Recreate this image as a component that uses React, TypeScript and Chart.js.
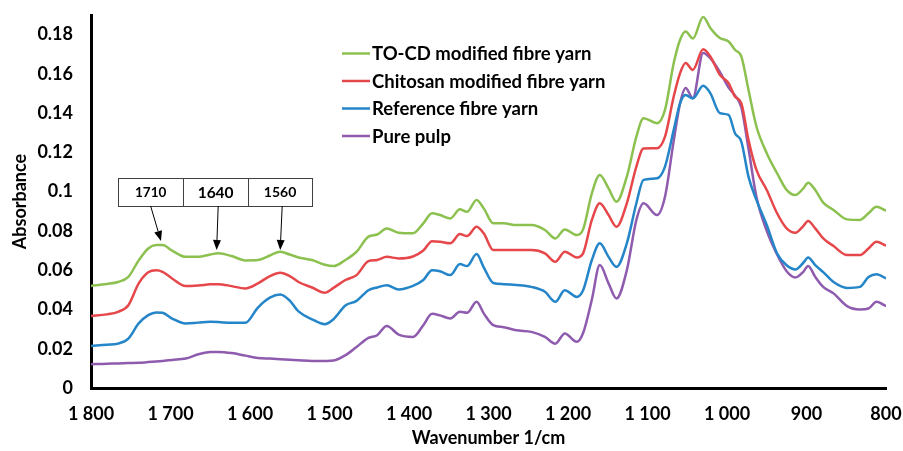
import React, { useEffect, useRef } from 'react';
import { Chart, registerables } from 'chart.js';

Chart.register(...registerables);

const wavenumbers = [
  1800, 1780, 1766, 1753, 1740, 1728, 1718, 1710, 1698, 1681,
  1665, 1650, 1640, 1623, 1606, 1590, 1575, 1562, 1550, 1539,
  1522, 1506, 1495, 1480, 1466, 1451, 1440, 1428, 1413, 1395,
  1382, 1371, 1361, 1348, 1336, 1327, 1315, 1306, 1294, 1281,
  1265, 1246, 1229, 1216, 1204, 1189, 1181, 1170, 1160, 1149,
  1139, 1126, 1114, 1105, 1088, 1078, 1067, 1059, 1052, 1043,
  1030, 1021, 1009, 998, 990, 982, 973, 963, 950, 937,
  925, 914, 904, 898, 889, 879, 866, 849, 833, 822,
  812, 800,
];

const tocdYarn = [
  0.052, 0.053, 0.054, 0.0566, 0.065, 0.0711, 0.0728, 0.0728, 0.070, 0.0668,
  0.0668, 0.068, 0.0686, 0.0672, 0.065, 0.0652, 0.0675, 0.0694, 0.068, 0.0665,
  0.0652, 0.0628, 0.0621, 0.0652, 0.0694, 0.0771, 0.0782, 0.0813, 0.0791, 0.0788,
  0.0839, 0.089, 0.0881, 0.0864, 0.091, 0.0898, 0.0958, 0.0915, 0.0839, 0.0839,
  0.083, 0.083, 0.0805, 0.0762, 0.0808, 0.0779, 0.0808, 0.0992, 0.1085, 0.1017,
  0.0949, 0.1077, 0.128, 0.1374, 0.1349, 0.1417, 0.1655, 0.1774, 0.1816, 0.178,
  0.189, 0.1834, 0.1783, 0.1765, 0.1723, 0.1689, 0.1519, 0.1332, 0.1196, 0.1094,
  0.1009, 0.0983, 0.1017, 0.1046, 0.1009, 0.0944, 0.0907, 0.0859, 0.0856, 0.089,
  0.0923, 0.0903,
];

const chitosanYarn = [
  0.0367, 0.0375, 0.0388, 0.0422, 0.0533, 0.059, 0.060, 0.0592, 0.0558, 0.0519,
  0.0522, 0.0528, 0.0529, 0.0519, 0.0507, 0.0533, 0.057, 0.0587, 0.057, 0.054,
  0.0512, 0.0485, 0.051, 0.055, 0.0575, 0.0646, 0.0652, 0.0668, 0.066, 0.067,
  0.070, 0.0748, 0.0745, 0.0737, 0.0784, 0.0774, 0.0821, 0.0788, 0.0703, 0.0703,
  0.0703, 0.0703, 0.0686, 0.0643, 0.0694, 0.0665, 0.0686, 0.0856, 0.0941, 0.0881,
  0.0821, 0.0941, 0.1128, 0.122, 0.1221, 0.128, 0.1485, 0.1604, 0.1655, 0.162,
  0.1725, 0.1689, 0.1595, 0.1553, 0.1485, 0.1451, 0.1264, 0.1111, 0.1009, 0.089,
  0.0813, 0.0791, 0.0825, 0.0851, 0.0813, 0.0762, 0.0723, 0.0677, 0.0677, 0.0711,
  0.0745, 0.0725,
];

const referenceYarn = [
  0.0214, 0.022, 0.0226, 0.0252, 0.0329, 0.0371, 0.0385, 0.0383, 0.0354, 0.0329,
  0.0333, 0.0337, 0.0336, 0.0332, 0.0332, 0.041, 0.046, 0.0476, 0.0445, 0.039,
  0.035, 0.0325, 0.035, 0.042, 0.0444, 0.0498, 0.0512, 0.0524, 0.0502, 0.052,
  0.055, 0.060, 0.0595, 0.0575, 0.0631, 0.0621, 0.0682, 0.0615, 0.0535, 0.0529,
  0.0525, 0.0515, 0.049, 0.0439, 0.0498, 0.0464, 0.0498, 0.0652, 0.0737, 0.0668,
  0.0617, 0.0737, 0.0941, 0.106, 0.1068, 0.1128, 0.1315, 0.1451, 0.1493, 0.1475,
  0.1539, 0.1502, 0.14, 0.1391, 0.1298, 0.1255, 0.1077, 0.0958, 0.083, 0.0685,
  0.0625, 0.0604, 0.0638, 0.0665, 0.0626, 0.059, 0.054, 0.051, 0.0515, 0.0565,
  0.058, 0.0558,
];

const purePulp = [
  0.0121, 0.0124, 0.0125, 0.0127, 0.0128, 0.0132, 0.0135, 0.0138, 0.0143, 0.015,
  0.0172, 0.0183, 0.0184, 0.0178, 0.0165, 0.0153, 0.015, 0.0147, 0.0144, 0.0141,
  0.0137, 0.0138, 0.014, 0.0167, 0.0209, 0.0255, 0.0269, 0.0316, 0.0272, 0.026,
  0.032, 0.0378, 0.037, 0.0354, 0.0388, 0.0383, 0.0439, 0.038, 0.032, 0.031,
  0.0294, 0.0286, 0.026, 0.0226, 0.0278, 0.0235, 0.028, 0.045, 0.0626, 0.0533,
  0.0456, 0.060, 0.0856, 0.0941, 0.0881, 0.0974, 0.126, 0.1451, 0.1528, 0.1477,
  0.1706, 0.168, 0.161, 0.153, 0.149, 0.143, 0.122, 0.0974, 0.080, 0.068,
  0.0595, 0.0563, 0.0592, 0.0622, 0.0566, 0.0515, 0.0482, 0.0417, 0.040, 0.0405,
  0.0439, 0.0417,
];

const seriesLabels = [
  'TO-CD modified fibre yarn',
  'Chitosan modified fibre yarn',
  'Reference fibre yarn',
  'Pure pulp',
];
const seriesValues = [tocdYarn, chitosanYarn, referenceYarn, purePulp];
const seriesColors = ['#8CC150', '#E5474B', '#2485C8', '#8E5BAE'];

// Annotation: peak labels, box extent, where the arrows start (bottom of box) and where they point
const peakLabels = ['1710', '1640', '1560'];
const boxEdges = [1766, 1684, 1602.5, 1522];
const boxTop = 0.107;
const boxBottom = 0.0927;
const arrowStart = [1725, 1640, 1559.5];
const arrowTipX = [1712, 1642, 1562];
const arrowTipY = [0.0749, 0.0703, 0.0703];

const FONT = 'Lato, "Open Sans", sans-serif';

function fmtX(v: number): string {
  if (v >= 1000) {
    const th = Math.floor(v / 1000);
    const rest = String(v % 1000).padStart(3, '0');
    return `${th} ${rest}`;
  }
  return String(v);
}

function zeroPad(scale: any) {
  scale.paddingTop = 0;
  scale.paddingBottom = 0;
  scale.paddingLeft = 0;
  scale.paddingRight = 0;
}

const overlayPlugin = {
  id: 'overlay',
  afterDatasetsDraw(chart: any) {
    const ctx = chart.ctx as CanvasRenderingContext2D;
    const xs = chart.scales.x;
    const ys = chart.scales.y;
    ctx.save();

    // Legend
    ctx.font = `bold 18.5px ${FONT}`;
    ctx.textBaseline = 'middle';
    ctx.textAlign = 'left';
    seriesLabels.forEach((lab, i) => {
      const cy = 53.5 + i * 27.5;
      ctx.strokeStyle = seriesColors[i];
      ctx.lineWidth = 2.5;
      ctx.beginPath();
      ctx.moveTo(342, cy);
      ctx.lineTo(370, cy);
      ctx.stroke();
      ctx.fillStyle = '#000';
      ctx.fillText(lab, 372, cy + 1);
    });

    // Annotation boxes
    const top = ys.getPixelForValue(boxTop);
    const bot = ys.getPixelForValue(boxBottom);
    ctx.lineWidth = 1;
    ctx.strokeStyle = '#404040';
    const sizes = [13.5, 15.5, 14];
    for (let i = 0; i < peakLabels.length; i++) {
      const l = xs.getPixelForValue(boxEdges[i]);
      const r = xs.getPixelForValue(boxEdges[i + 1]);
      ctx.fillStyle = '#fff';
      ctx.fillRect(l, top, r - l, bot - top);
      ctx.strokeRect(Math.round(l) + 0.5, Math.round(top) + 0.5, Math.round(r - l), Math.round(bot - top));
      ctx.fillStyle = '#000';
      ctx.font = `bold ${sizes[i]}px ${FONT}`;
      ctx.textAlign = 'center';
      ctx.textBaseline = 'middle';
      ctx.fillText(peakLabels[i], (l + r) / 2, (top + bot) / 2 + 1);
    }

    // Arrows
    ctx.strokeStyle = '#000';
    ctx.fillStyle = '#000';
    for (let i = 0; i < peakLabels.length; i++) {
      const x0 = xs.getPixelForValue(arrowStart[i]);
      const y0 = bot;
      const x1 = xs.getPixelForValue(arrowTipX[i]);
      const y1 = ys.getPixelForValue(arrowTipY[i]);
      const ang = Math.atan2(y1 - y0, x1 - x0);
      const hl = 10;
      const hw = 4;
      const bx = x1 - hl * Math.cos(ang);
      const by = y1 - hl * Math.sin(ang);
      ctx.lineWidth = 1;
      ctx.beginPath();
      ctx.moveTo(x0, y0);
      ctx.lineTo(bx, by);
      ctx.stroke();
      ctx.beginPath();
      ctx.moveTo(x1, y1);
      ctx.lineTo(bx + hw * Math.sin(ang), by - hw * Math.cos(ang));
      ctx.lineTo(bx - hw * Math.sin(ang), by + hw * Math.cos(ang));
      ctx.closePath();
      ctx.fill();
    }
    ctx.restore();
  },
};

export default function App() {
  const ref = useRef<HTMLCanvasElement>(null);

  useEffect(() => {
    if (!ref.current) return;
    const chart = new Chart(ref.current, {
      type: 'line',
      data: {
        datasets: seriesLabels.map((label, si) => ({
          label,
          data: wavenumbers.map((w, i) => ({ x: w, y: seriesValues[si][i] })),
          borderColor: seriesColors[si],
          backgroundColor: seriesColors[si],
          borderWidth: 2.5,
          pointRadius: 0,
          fill: false,
          cubicInterpolationMode: 'monotone' as const,
        })),
      },
      options: {
        responsive: false,
        animation: false,
        devicePixelRatio: 1,
        layout: { padding: { top: 15, right: 17, left: 0, bottom: 0 } },
        plugins: {
          legend: { display: false },
          tooltip: { enabled: false },
        },
        scales: {
          x: {
            type: 'linear',
            reverse: true,
            min: 800,
            max: 1800,
            grid: { display: false, drawTicks: false },
            border: { display: true, color: '#000', width: 3 },
            ticks: {
              stepSize: 100,
              padding: 15,
              color: '#000',
              font: { family: FONT, size: 18, weight: 'bold' },
              callback: (v: any) => fmtX(Number(v)),
              maxRotation: 0,
              autoSkip: false,
            },
            title: {
              display: true,
              text: 'Wavenumber 1/cm',
              color: '#000',
              font: { family: FONT, size: 18, weight: 'bold' },
              padding: { top: 0, bottom: 2 },
            },
            afterFit: (scale: any) => {
              scale.height = 63;
              zeroPad(scale);
            },
          },
          y: {
            type: 'linear',
            min: 0,
            max: 0.19,
            grid: { display: false, drawTicks: false },
            border: { display: true, color: '#000', width: 3 },
            ticks: {
              stepSize: 0.02,
              includeBounds: false,
              padding: 18,
              color: '#000',
              font: { family: FONT, size: 18, weight: 'bold' },
              callback: (v: any) => String(Number(Number(v).toFixed(2))),
            },
            title: {
              display: true,
              text: 'Absorbance',
              color: '#000',
              font: { family: FONT, size: 18, weight: 'bold' },
              padding: { top: 9, bottom: 0 },
            },
            afterFit: (scale: any) => {
              scale.width = 91;
              zeroPad(scale);
            },
          },
        },
      },
      plugins: [overlayPlugin],
    });
    return () => chart.destroy();
  }, []);

  return (
    <div style={{ position: 'fixed', left: 0, top: 0, width: 903, height: 451, background: '#fff' }}>
      <canvas ref={ref} width={903} height={451} style={{ width: 903, height: 451, display: 'block' }} />
    </div>
  );
}
